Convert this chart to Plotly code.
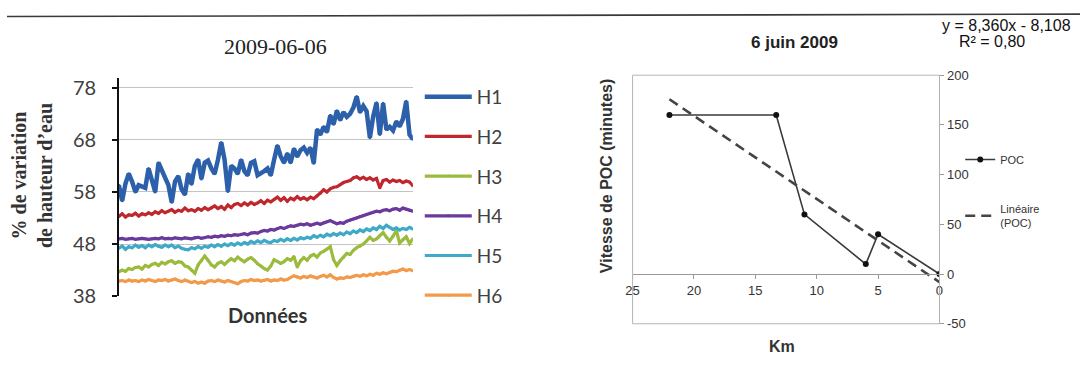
import plotly.graph_objects as go

# ---------------- data ----------------
series_names = ["H1", "H2", "H3", "H4", "H5", "H6"]
x_index = list(range(90))

H1 = [59.3, 56.3, 59.6, 61.5, 60.0, 58.0, 59.3, 59.0, 58.8, 62.5,
      60.0, 58.0, 63.6, 62.0, 60.5, 59.3, 56.0, 60.0, 61.0, 58.5,
      57.5, 61.5, 59.5, 63.0, 64.2, 60.5, 63.6, 64.0, 62.5, 61.5,
      64.2, 67.5, 64.2, 58.1, 63.0, 62.5, 61.5, 64.2, 62.0, 61.2,
      63.6, 63.9, 61.2, 61.5, 62.0, 62.5, 61.2, 64.2, 66.9, 64.8,
      63.6, 65.4, 63.6, 66.3, 64.8, 66.0, 66.5, 65.5, 66.5, 63.5,
      70.0, 69.0, 70.5, 69.5, 72.7, 71.0, 73.6, 71.8, 73.3, 72.4,
      73.0, 74.2, 76.3, 73.3, 74.5, 73.5, 68.4, 72.5, 75.1, 69.0,
      75.0, 70.0, 70.5, 69.8, 71.5, 70.6, 72.0, 75.4, 69.0, 68.1]

H2 = [53.3, 53.8, 53.2, 53.6, 53.5, 53.9, 53.4, 53.8, 53.6, 54.0,
      53.7, 54.2, 53.9, 54.4, 54.0, 54.3, 54.6, 54.1, 54.5, 54.3,
      54.9, 54.4, 54.6, 54.3, 54.8, 54.5, 55.0, 54.6, 54.9, 55.3,
      54.8, 55.2, 54.7, 55.5, 55.0, 55.6, 55.8, 55.4, 55.9, 55.5,
      56.0, 55.6, 55.9, 56.3, 55.8, 56.4, 56.1, 56.6, 57.0, 56.4,
      56.9, 56.2, 56.8, 56.5, 57.1, 56.6, 56.9, 56.5, 57.0, 56.7,
      57.2, 57.8, 58.4, 58.0, 58.6, 58.9, 59.0, 59.4, 59.8, 60.0,
      60.2, 60.7, 60.9, 60.5, 60.8, 60.4, 60.7, 60.3, 60.6, 58.8,
      60.2, 60.4, 59.9, 60.3, 60.0, 60.2, 59.8, 60.1, 59.9, 59.2]

H3 = [42.7, 43.0, 42.8, 43.3, 43.1, 43.5, 43.6, 43.2, 43.9, 43.6,
      44.1, 44.3, 43.9, 44.5, 44.2, 44.6, 44.8, 44.3, 44.6, 44.5,
      43.8, 43.6, 43.0, 42.4, 44.0, 44.8, 45.7, 44.9, 44.0, 43.6,
      44.3, 44.6, 44.1, 44.7, 45.2, 44.8, 45.5, 45.0, 44.6, 45.1,
      45.4, 44.9, 44.2, 43.8, 43.3, 43.0, 43.8, 45.0, 44.7, 44.3,
      44.6, 45.2, 44.9, 45.6, 43.6, 44.8, 45.4, 44.9, 45.7, 46.0,
      45.5, 46.3, 46.6, 47.0, 47.5, 45.0, 43.9, 44.8, 45.4, 46.2,
      46.0, 46.8, 47.3, 47.6, 48.0, 48.6, 49.3, 48.7, 49.0, 49.6,
      50.2, 49.3, 48.6, 49.5, 50.6, 48.2, 48.9, 49.4, 48.1, 49.0]

H4 = [49.0, 49.1, 48.9, 49.0, 49.1, 48.9, 49.0, 49.1, 49.0, 48.9,
      49.0, 49.1, 49.0, 49.2, 49.0, 49.1, 49.0, 49.2, 49.1, 49.0,
      49.2, 49.1, 49.0, 49.2, 49.3, 49.1, 49.2, 49.4, 49.3, 49.5,
      49.4, 49.6, 49.5, 49.7, 49.6, 49.8, 49.7, 49.9, 50.0, 49.8,
      50.1, 50.2, 50.1, 50.4, 50.6, 50.5, 50.8, 50.7, 51.0, 51.2,
      51.0, 51.3, 51.5, 51.4, 51.6, 51.8, 51.7, 51.9, 51.6, 51.8,
      52.0, 51.8, 52.1, 52.3, 52.5, 52.2, 51.9, 52.1, 52.0, 52.4,
      52.6, 52.8, 53.0, 53.3, 53.5, 53.7, 53.9, 54.1, 54.3, 54.2,
      54.5, 54.6, 54.4, 54.7, 54.8, 54.5, 54.9, 54.7, 54.5, 54.3]

H5 = [47.2, 47.6, 47.0, 47.5, 47.3, 47.8, 47.4, 47.7, 47.3, 47.8,
      47.5, 47.9, 47.6, 47.4, 47.8, 47.5, 47.8, 47.3, 47.6, 47.2,
      47.0, 46.9, 47.3, 47.1, 47.5, 47.2, 47.6, 47.4, 47.8, 47.5,
      47.9, 47.6, 48.0, 47.7, 48.1, 47.8, 48.2, 47.9, 48.3, 48.0,
      48.5, 48.2, 48.6, 48.3, 48.7, 48.4, 48.3, 48.7, 48.5, 48.9,
      48.6, 49.0, 48.7, 49.1, 48.8, 49.2, 49.0, 49.3, 49.1, 49.6,
      49.3, 49.7, 49.4, 49.9, 49.6, 50.0, 49.7, 50.1, 49.8, 50.3,
      50.0, 50.5, 50.2, 50.7, 50.4, 50.9, 50.6, 51.1, 50.8, 51.4,
      51.0, 51.6, 51.2, 50.8, 51.1, 50.7, 51.0, 50.8, 51.2, 50.9]

H6 = [40.9, 41.0, 40.8, 41.1, 40.9, 41.0, 40.8, 41.1, 40.9, 41.2,
      41.0, 40.8, 41.1, 41.0, 41.2, 40.9, 41.1, 41.3, 41.0, 40.8,
      41.1, 40.9, 40.6, 40.8, 40.5, 40.7, 40.5, 40.9, 41.0, 40.8,
      41.1, 40.9, 40.7, 41.0, 40.8, 40.6, 40.4, 40.8, 41.0, 40.9,
      41.2, 41.0, 41.1, 40.9, 41.0, 41.2, 40.9, 41.1, 41.0, 41.3,
      41.1, 41.2, 41.6, 41.9, 41.7, 41.5, 41.8, 41.6, 41.9, 41.7,
      41.5, 41.8, 42.0, 41.7, 42.1, 41.6, 41.3, 41.5, 41.4, 41.7,
      41.6, 41.8, 42.0, 41.8, 42.1, 41.9, 42.2, 42.0, 42.4, 42.2,
      42.5, 42.3, 42.6, 42.8, 42.7, 43.0, 43.2, 42.9, 43.1, 42.9]

left_ticks = [38, 48, 58, 68, 78]

poc_km = [22, 13.3, 11, 6, 5, 0]
poc_minutes = [160, 160, 60, 10, 40, 0]
trend_slope = 8.360
trend_intercept = -8.108
trend_km = [22, 0]
right_yticks = [-50, 0, 50, 100, 150, 200]
right_ytick_labels = ["-50", "0", "50", "100", "150", "200"]
right_xticks = [25, 20, 15, 10, 5, 0]

# ---------------- styles ----------------
W, H = 1084, 369
colors = ["#2d60ab", "#c0282d", "#9bbb3c", "#6b3a9c", "#3fa9c8", "#f39a4a"]
widths = [4.5, 3.2, 3.2, 3.2, 3.2, 3.2]


def fx(px):
    return px / W


def fy(py):
    return 1 - py / H


fig = go.Figure()

series = [H1, H2, H3, H4, H5, H6]
for name, vals, col, w in zip(series_names, series, colors, widths):
    fig.add_trace(go.Scatter(
        x=x_index, y=vals, name=name, mode="lines+markers", legendgroup=name,
        line=dict(color=col, width=w), marker=dict(color=col, size=3),
        xaxis="x", yaxis="y", legend="legend"))

trend_vals = [trend_slope * k + trend_intercept for k in trend_km]
fig.add_trace(go.Scatter(
    x=poc_km, y=poc_minutes, name="POC", mode="lines+markers", legendgroup="poc",
    line=dict(color="#3a3a3a", width=1.6), marker=dict(color="#111", size=6),
    xaxis="x2", yaxis="y2", legend="legend2"))
fig.add_trace(go.Scatter(
    x=trend_km, y=trend_vals, name="Linéaire<br>(POC)", mode="lines", legendgroup="lin",
    line=dict(color="#444", width=2.6, dash="10px,6px"),
    xaxis="x2", yaxis="y2", legend="legend2"))

left_font = dict(family="Lato, Carlito, 'Open Sans', sans-serif", size=19, color="#404040")
tick_font = dict(family="Lato, Carlito, 'Open Sans', sans-serif", size=20, color="#404040")
arial = "Liberation Sans, Arial, sans-serif"

fig.update_layout(
    width=W, height=H,
    margin=dict(l=0, r=0, t=0, b=0),
    paper_bgcolor="white", plot_bgcolor="rgba(0,0,0,0)",
    xaxis=dict(domain=[fx(113), fx(410)], range=[0, 89], showgrid=False,
               zeroline=False, showticklabels=False, showline=False, ticks=""),
    yaxis=dict(domain=[fy(304), fy(75)], range=[38, 79.8], tickvals=left_ticks,
               showgrid=True, gridcolor="#c4c4c4", gridwidth=1, zeroline=False,
               showline=True, linecolor="#111", linewidth=1.5,
               ticks="outside", ticklen=5, tickcolor="#111", tickwidth=1.5,
               ticklabelstandoff=12, tickfont=tick_font, anchor="x"),
    yaxis3=dict(domain=[fy(304), fy(75)], range=[38, 79.8], tickvals=left_ticks,
                overlaying="y", anchor="x", showgrid=False, zeroline=False,
                ticks="inside", ticklen=5, tickcolor="#111", tickwidth=1.5,
                showticklabels=False, showline=False),
    xaxis2=dict(domain=[fx(632), fx(942)], range=[25, 0], tickvals=right_xticks,
                anchor="free", position=fy(281), showgrid=False, zeroline=False,
                showline=True, linecolor="#9a9a9a", linewidth=1,
                ticks="outside", ticklen=4, tickcolor="#9a9a9a",
                tickfont=dict(family=arial, size=13, color="#333")),
    yaxis2=dict(domain=[fy(333), fy(71.7)], range=[-50, 200], tickvals=right_yticks,
                ticktext=right_ytick_labels,
                side="right", anchor="x2", showgrid=False, zeroline=False,
                showline=True, linecolor="#9a9a9a", linewidth=1,
                ticks="outside", ticklen=4, tickcolor="#9a9a9a",
                tickfont=dict(family=arial, size=13, color="#333")),
    legend=dict(x=fx(417), y=fy(74.5), xanchor="left", yanchor="top",
                font=left_font, bgcolor="rgba(0,0,0,0)", tracegroupgap=12,
                itemwidth=47, traceorder="grouped"),
    legend2=dict(x=fx(963), y=fy(145), xanchor="left", yanchor="top",
                 font=dict(family=arial, size=11, color="#333"),
                 bgcolor="rgba(0,0,0,0)", tracegroupgap=31, traceorder="grouped"),
    showlegend=True,
)

# frame of the right chart and top rule
fig.add_shape(type="rect", xref="x2 domain", yref="y2 domain", x0=0, x1=1, y0=0, y1=1,
              line=dict(color="#b5b5b5", width=1))
fig.add_shape(type="line", xref="paper", yref="paper", x0=0, x1=1, y0=fy(10), y1=fy(7.5),
              line=dict(color="#3a3a3a", width=1.6))

ann = []
ann.append(dict(text="2009-06-06", x=fx(271), y=fy(42), xanchor="center", yanchor="middle",
                font=dict(family="Liberation Serif, Times New Roman, serif", size=22, color="#222")))
ann.append(dict(text="<b>% de variation<br>de hauteur d’eau</b>", x=fx(26), y=fy(177),
                textangle=-90, xanchor="center", yanchor="middle",
                font=dict(family="Liberation Serif, Times New Roman, serif", size=20, color="#333")))
ann.append(dict(text="<b>Données</b>", x=fx(263), y=fy(324), xanchor="center", yanchor="middle",
                font=dict(family="Lato, Carlito, sans-serif", size=20, color="#333")))
ann.append(dict(text="<b>6 juin 2009</b>", x=fx(796), y=fy(37), xanchor="center", yanchor="middle",
                font=dict(family=arial, size=17, color="#222")))
ann.append(dict(text="y = 8,360x - 8,108", x=fx(1010), y=fy(19), xanchor="center", yanchor="middle",
                font=dict(family=arial, size=16, color="#111")))
ann.append(dict(text="R² = 0,80", x=fx(995), y=fy(36), xanchor="center", yanchor="middle",
                font=dict(family=arial, size=16, color="#111")))
ann.append(dict(text="<b>Vitesse de POC (minutes)</b>", x=fx(605), y=fy(178), textangle=-90,
                xanchor="center", yanchor="middle",
                font=dict(family=arial, size=16, color="#333")))
ann.append(dict(text="<b>Km</b>", x=fx(783), y=fy(357), xanchor="center", yanchor="middle",
                font=dict(family=arial, size=16, color="#333")))
for a in ann:
    a.update(xref="paper", yref="paper", showarrow=False)
fig.update_layout(annotations=ann)

fig.write_html("out.html", config={"displayModeBar": False},
               post_script="document.body.style.margin='0';document.body.style.overflow='hidden';")
